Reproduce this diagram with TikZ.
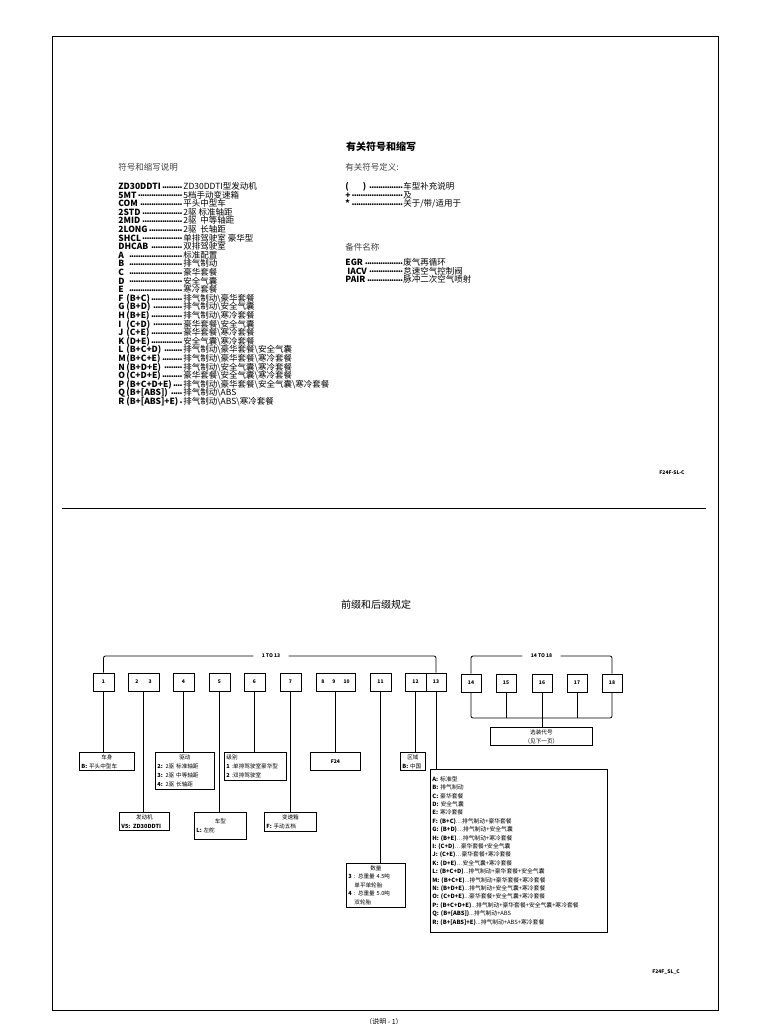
\documentclass[tikz,border=0pt]{standalone}
\usepackage{fontspec}
\setmainfont{Noto Sans CJK SC}
\usetikzlibrary{positioning}
\lineskiplimit=-20pt
\newcommand{\dotlead}{\leaders\hbox to 2.2pt{\hss\raisebox{1.3pt}{.}\hss}\hfill}
\newcommand{\abbr}[3]{\makebox[#1][l]{\bfseries #2\,\dotlead}#3}
\newcommand{\ltr}[1]{\makebox[8pt][l]{#1}}
\newcommand{\bsl}{\textbackslash}

\begin{document}
\begin{tikzpicture}[x=1pt,y=-1pt,line width=0.8pt,
  font=\fontsize{8.5}{8.6}\selectfont,
  list/.style={anchor=north west,inner sep=0pt,align=left},
  head/.style={anchor=base west,inner sep=0pt,text=black!75},
  numbox/.style={draw,minimum width=21pt,minimum height=18pt,inner sep=0pt,
                 font=\fontsize{5}{6}\selectfont\bfseries},
  infobox/.style={draw,anchor=north west,inner sep=2pt,align=left,
                  font=\fontsize{5.6}{9.3}\selectfont},
  span/.style={inner xsep=8pt,inner ysep=0pt,font=\fontsize{5}{6}\selectfont\bfseries},
  tag/.style={font=\fontsize{5}{6}\selectfont\bfseries}]
\useasboundingbox (0,0) rectangle (768,1024);

% ---- frame ----
\draw (52,36) rectangle (718,1010);
\draw (62,508) -- (706,508);

% ---- symbols and abbreviations ----
\node[anchor=base,inner sep=0pt,font=\fontsize{10}{12}\selectfont\bfseries] (title) at (381,151) {有关符号和缩写};
\node[head] (symhead) at (118,171) {符号和缩写说明};
\node[head] (defhead) at (345,171) {有关符号定义:};

\node[list] (symlist) at (118,182) {%
  \abbr{65pt}{ZD30DDTI}{ZD30DDTI型发动机}\\
  \abbr{65pt}{5MT}{5档手动变速箱}\\
  \abbr{65pt}{COM}{平头中型车}\\
  \abbr{65pt}{2STD}{2驱\ 标准轴距}\\
  \abbr{65pt}{2MID}{2驱\ \ 中等轴距}\\
  \abbr{65pt}{2LONG}{2驱\ \ 长轴距}\\
  \abbr{65pt}{SHCL}{单排驾驶室\ 豪华型}\\
  \abbr{65pt}{DHCAB}{双排驾驶室}\\
  \abbr{65pt}{\ltr{A}}{标准配置}\\
  \abbr{65pt}{\ltr{B}}{排气制动}\\
  \abbr{65pt}{\ltr{C}}{豪华套餐}\\
  \abbr{65pt}{\ltr{D}}{安全气囊}\\
  \abbr{65pt}{\ltr{E}}{寒冷套餐}\\
  \abbr{65pt}{\ltr{F}(B+C)}{排气制动\bsl 豪华套餐}\\
  \abbr{65pt}{\ltr{G}(B+D)}{排气制动\bsl 安全气囊}\\
  \abbr{65pt}{\ltr{H}(B+E)}{排气制动\bsl 寒冷套餐}\\
  \abbr{65pt}{\ltr{I}(C+D)}{豪华套餐\bsl 安全气囊}\\
  \abbr{65pt}{\ltr{J}(C+E)}{豪华套餐\bsl 寒冷套餐}\\
  \abbr{65pt}{\ltr{K}(D+E)}{安全气囊\bsl 寒冷套餐}\\
  \abbr{65pt}{\ltr{L}(B+C+D)}{排气制动\bsl 豪华套餐\bsl 安全气囊}\\
  \abbr{65pt}{\ltr{M}(B+C+E)}{排气制动\bsl 豪华套餐\bsl 寒冷套餐}\\
  \abbr{65pt}{\ltr{N}(B+D+E)}{排气制动\bsl 安全气囊\bsl 寒冷套餐}\\
  \abbr{65pt}{\ltr{O}(C+D+E)}{豪华套餐\bsl 安全气囊\bsl 寒冷套餐}\\
  \abbr{65pt}{\ltr{P}(B+C+D+E)}{排气制动\bsl 豪华套餐\bsl 安全气囊\bsl 寒冷套餐}\\
  \abbr{65pt}{\ltr{Q}(B+[ABS])}{排气制动\bsl ABS}\\
  \abbr{65pt}{\ltr{R}(B+[ABS]+E)}{排气制动\bsl ABS\bsl 寒冷套餐}};

\node[list] (deflist) at (345,182) {%
  \abbr{58pt}{(\hspace{14pt})}{车型补充说明}\\
  \abbr{58pt}{+}{及}\\
  \abbr{58pt}{*}{关于/带/适用于}};

\node[head] (parthead) at (345,250) {备件名称};
\node[list] (partlist) at (345,258) {%
  \abbr{58pt}{EGR}{废气再循环}\\
  \abbr{58pt}{\ IACV}{怠速空气控制阀}\\
  \abbr{58pt}{PAIR}{脉冲二次空气喷射}};

\node[tag] (code1) at (672,473) {F24F-SL-C};

% ---- prefix and suffix ----
\node[anchor=base,inner sep=0pt,font=\fontsize{10}{12}\selectfont] (pfxtitle) at (376,608) {前缀和后缀规定};

\node[numbox] (b1) at (103.5,682) {1};
\node[numbox,minimum width=31pt] (b23) at (143.5,682) {2\hspace{10pt}3};
\node[numbox] (b4) at (183.5,682) {4};
\node[numbox] (b5) at (219.5,682) {5};
\node[numbox] (b6) at (254.5,682) {6};
\node[numbox] (b7) at (290.5,682) {7};
\node[numbox,minimum width=39pt] (b810) at (335.5,682) {8\hspace{8pt}9\hspace{8pt}10};
\node[numbox] (b11) at (380.5,682) {11};
\node[numbox] (b12) at (415.5,682) {12};
\node[numbox,minimum width=20pt] (b13) at (436,682) {13};

\node[numbox,minimum width=20pt] (b14) at (471,683) {14};
\node[numbox,minimum width=20pt] (b15) at (506,683) {15};
\node[numbox,minimum width=20pt] (b16) at (542,683) {16};
\node[numbox,minimum width=20pt] (b17) at (577,683) {17};
\node[numbox,minimum width=20pt] (b18) at (612,683) {18};

\node[span] (r113) at (271,656) {1 TO 13};
\draw[rounded corners=2pt] (b1.north) |- (r113.west);
\draw[rounded corners=2pt] (r113.east) -| (b13.north);
\node[span] (r1418) at (541.5,656) {14 TO 18};
\draw[rounded corners=2pt] (b14.north) |- (r1418.west);
\draw[rounded corners=2pt] (r1418.east) -| (b18.north);

% ---- meaning of each position ----
\node[infobox,text width=51pt] (body) at (79,752) {\hfill 车身\hfill\null\\ \textbf{B:} 平头中型车};
\node[infobox,text width=55pt] (drive) at (155,752) {\hfill 驱动\hfill\null\\
  \textbf{2:} 2驱\ 标准轴距\\ \textbf{3:} 2驱\ 中等轴距\\ \textbf{4:} 2驱\ 长轴距};
\node[infobox,text width=58pt] (grade) at (224,752) {级别\\
  \textbf{1} :单排驾驶室豪华型\\ \textbf{2} :双排驾驶室};
\node[infobox,text width=46pt,align=center,minimum height=18pt,font=\fontsize{5}{6}\selectfont\bfseries] (model) at (310,752) {F24};
\node[infobox,text width=21pt] (area) at (400,752) {\hfill 区域\hfill\null\\ \textbf{B:} 中国};
\node[infobox,text width=46pt] (engine) at (119,812) {\hfill 发动机\hfill\null\\ \textbf{V5: ZD30DDTI}};
\node[infobox,text width=48pt,minimum height=27pt] (type) at (194,812) {\hfill 车型\hfill\null\\ \textbf{L:} 左舵};
\node[infobox,text width=48pt] (trans) at (264,812) {\hfill 变速箱\hfill\null\\ \textbf{F:} 手动五档};
\node[infobox,text width=55pt,font=\fontsize{5.6}{8.6}\selectfont] (weight) at (346,863) {\hfill 数量\hfill\null\\
  \textbf{3} : 总重量\ 4.5吨\\ \hspace{6pt}单平单轮胎\\ \textbf{4} : 总重量\ 5.0吨\\ \hspace{6pt}双轮胎};
\node[infobox,text width=173pt,minimum height=163pt,font=\fontsize{5.8}{8.4}\selectfont] (opt) at (430,769) {%
  \textbf{A:} 标准型\\
  \textbf{B:} 排气制动\\
  \textbf{C:} 豪华套餐\\
  \textbf{D:} 安全气囊\\
  \textbf{E:} 寒冷套餐\\
  \textbf{F: (B+C)}…排气制动+豪华套餐\\
  \textbf{G: (B+D)}…排气制动+安全气囊\\
  \textbf{H: (B+E)}…排气制动+寒冷套餐\\
  \textbf{I: (C+D)}…豪华套餐+安全气囊\\
  \textbf{J: (C+E)}…豪华套餐+寒冷套餐\\
  \textbf{K: (D+E)}…安全气囊+寒冷套餐\\
  \textbf{L: (B+C+D)}...排气制动+豪华套餐+安全气囊\\
  \textbf{M: (B+C+E)}...排气制动+豪华套餐+寒冷套餐\\
  \textbf{N: (B+D+E)}...排气制动+安全气囊+寒冷套餐\\
  \textbf{O: (C+D+E)}...豪华套餐+安全气囊+寒冷套餐\\
  \textbf{P: (B+C+D+E)}...排气制动+豪华套餐+安全气囊+寒冷套餐\\
  \textbf{Q: (B+[ABS])}...排气制动+ABS\\
  \textbf{R: (B+[ABS]+E)}...排气制动+ABS+寒冷套餐};
\node[infobox,text width=98pt,align=center,font=\fontsize{5.6}{9}\selectfont] (xz) at (490,727) {选装代号\\（见下一页）};

\draw (b1.south) -- (b1.south |- body.north);
\draw (b23.south) -- (b23.south |- engine.north);
\draw (b4.south) -- (b4.south |- drive.north);
\draw (b5.south) -- (b5.south |- type.north);
\draw (b6.south) -- (b6.south |- grade.north);
\draw (b7.south) -- (b7.south |- trans.north);
\draw (b810.south) -- (b810.south |- model.north);
\draw (b11.south) -- (b11.south |- weight.north);
\draw (b12.south) -- (b12.south |- area.north);
\draw (b13.south) -- (b13.south |- opt.north);

\coordinate (bus) at (0,718);
\draw[rounded corners=2pt] (b14.south) |- (bus -| b18.south) -- (b18.south);
\foreach \b in {b15,b16,b17} \draw (\b.south) -- (bus -| \b.south);
\draw (b16.south) -- (b16.south |- xz.north);

\node[tag] (code2) at (666,972) {F24F\_SL\_C};
\node[font=\fontsize{7}{8}\selectfont] (foot) at (384,1022) {（说明 - 1）};
\end{tikzpicture}
\end{document}
